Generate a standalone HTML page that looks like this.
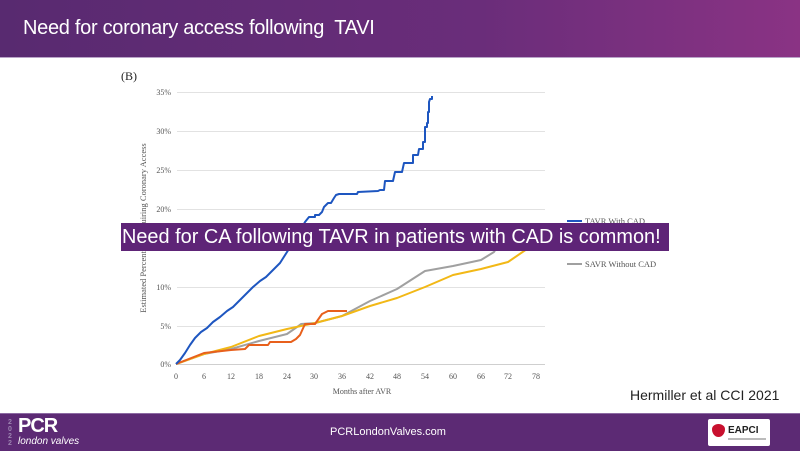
<!DOCTYPE html>
<html><head><meta charset="utf-8"><style>
body{margin:0;width:800px;height:450px;overflow:hidden;background:#fff;font-family:"Liberation Sans",sans-serif;position:relative}
.hdr{position:absolute;left:0;top:0;width:800px;height:57px;background:linear-gradient(90deg,#582a70,#6a2d7a 60%,#8a3384);border-bottom:1px solid #b9a4c8}
.hdr span{position:absolute;left:23px;top:17px;color:#fff;font-size:20px;letter-spacing:-0.3px}
.ftr{position:absolute;left:0;top:413px;width:800px;height:37px;background:#5c2a74;border-top:1px solid #8d6aa3}
.ban{position:absolute;left:121px;top:223px;width:548px;height:28px;background:#5e2477;color:#fff;font-size:20px;line-height:28px;white-space:nowrap;overflow:hidden}
.ban span{display:inline-block;transform-origin:0 50%;transform:scaleX(0.995);padding-left:1px}
</style></head><body>
<div class="hdr"><span>Need for coronary access following&nbsp; TAVI</span></div>
<svg width="800" height="413" style="position:absolute;left:0;top:0" font-family="Liberation Serif,serif">
<text x="121" y="80" font-size="12" fill="#222">(B)</text>
<g stroke="#e2e2e2" stroke-width="1">
<line x1="177" x2="545" y1="92.5" y2="92.5"/><line x1="177" x2="545" y1="131.5" y2="131.5"/><line x1="177" x2="545" y1="170.5" y2="170.5"/><line x1="177" x2="545" y1="209.5" y2="209.5"/><line x1="177" x2="545" y1="248.5" y2="248.5"/><line x1="177" x2="545" y1="287.5" y2="287.5"/><line x1="177" x2="545" y1="326.5" y2="326.5"/><line x1="177" x2="545" y1="364.5" y2="364.5" stroke="#cfcfcf"/>
</g>
<g font-size="8" fill="#555" text-anchor="end">
<text x="171" y="95">35%</text><text x="171" y="134">30%</text><text x="171" y="173">25%</text><text x="171" y="212">20%</text><text x="171" y="251">15%</text><text x="171" y="290">10%</text><text x="171" y="329">5%</text><text x="171" y="367">0%</text>
</g>
<g font-size="8" fill="#555" text-anchor="middle">
<text x="176" y="379">0</text><text x="204" y="379">6</text><text x="231" y="379">12</text><text x="259" y="379">18</text><text x="287" y="379">24</text><text x="314" y="379">30</text><text x="342" y="379">36</text><text x="370" y="379">42</text><text x="397" y="379">48</text><text x="425" y="379">54</text><text x="453" y="379">60</text><text x="481" y="379">66</text><text x="508" y="379">72</text><text x="536" y="379">78</text>
</g>
<text x="362" y="394" font-size="8" fill="#555" text-anchor="middle">Months after AVR</text>
<text transform="translate(146,228) rotate(-90)" font-size="8.5" fill="#555" text-anchor="middle">Estimated Percentage Requiring Coronary Access</text>
<g fill="none" stroke-width="2" stroke-linejoin="round">
<polyline stroke="#a0a0a0" points="176,364 204,354 231,349 259,341 287,334 297,327 301,324 315,323 342,316 370,301 397,289 425,271 453,266 481,260 494,252 499,244 503,235"/>
<polyline stroke="#f2b816" points="176,364 204,354 231,347 259,336 287,329 315,323 342,316 370,306 397,298 425,287 453,275 481,269 508,262 527,249 531,245"/>
<polyline stroke="#e8601c" points="176,364 204,353 231,350 245,349 249,345 268,345 270,342 291,342 296,339 300,335 305,324 315,324 322,314 328,311 347,311"/>
<polyline stroke="#1e56c0" points="176,364 180,360 185,353 190,345 195,338 201,332 207,328 213,322 220,317 227,311 233,307 239,301 246,294 253,287 260,281 266,277 273,270 280,263 287,252 293,243 299,233 305,222 309,217 311,217 315,217 315,215 319,215 322,212 324,207 328,203 331,203 334,198 336,195 339,194 345,194 357,194 358,192 378,191 380,190 384,190 385,181 393,181 395,172 402,172 404,163 413,163 413,155 418,155 419,149 423,149 423,142 425,142 425,127 427,127 427,123 428,123 428,112 429,112 429,102 430,99 432,99 432,96"/>
</g>
<line x1="567" x2="582" y1="221" y2="221" stroke="#1e56c0" stroke-width="2"/>
<text x="585" y="224" font-size="8.5" fill="#555">TAVR With CAD</text>
<line x1="567" x2="582" y1="264" y2="264" stroke="#a0a0a0" stroke-width="2"/>
<text x="585" y="267" font-size="8.5" fill="#555">SAVR Without CAD</text>
<text x="630" y="400" font-size="14" fill="#222" font-family="Liberation Sans,sans-serif">Hermiller et al CCI 2021</text>
</svg>
<div class="ban"><span>Need for CA following TAVR in patients with CAD is common!</span></div>
<div class="ftr">
<div style="position:absolute;left:8px;top:5px;color:#9c83b0;font-size:7px;line-height:7px;width:7px;font-weight:bold">2<br>0<br>2<br>2</div>
<div style="position:absolute;left:18px;top:1px;color:#fff;font-size:20px;font-weight:bold;letter-spacing:-1px">PCR</div>
<div style="position:absolute;left:18px;top:22px;color:#fff;font-size:10px;font-style:italic">london valves</div>
<div style="position:absolute;left:330px;top:12px;color:#fff;font-size:11px">PCRLondonValves.com</div>
<div style="position:absolute;left:708px;top:5px;width:62px;height:27px;background:#fff;border-radius:2px">
<div style="position:absolute;left:4px;top:5px;width:13px;height:13px;background:#c8102e;border-radius:50% 50% 50% 50%/40% 40% 60% 60%"></div>
<div style="position:absolute;left:20px;top:6px;font-size:10px;font-weight:bold;color:#222">EAPCI</div>
<div style="position:absolute;left:20px;top:19px;width:38px;height:2px;background:#bbb"></div>
</div>
</div>
</body></html>
